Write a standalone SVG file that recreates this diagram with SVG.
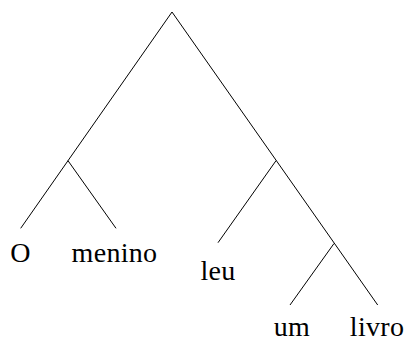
<svg xmlns="http://www.w3.org/2000/svg" width="405" height="342" viewBox="0 0 405 342">
<style>
.e{stroke:#000;stroke-width:1;fill:none}
.t{font-family:"Liberation Serif",serif;font-size:28px;letter-spacing:0.3px;text-anchor:middle;fill:#000}
</style>
<rect width="405" height="342" fill="#fff"/>
<g id="edges">
<line class="e" x1="172" y1="12" x2="20.7" y2="228.3"/>
<line class="e" x1="68" y1="160.7" x2="116" y2="228.3"/>
<line class="e" x1="172" y1="12" x2="377.7" y2="305"/>
<line class="e" x1="276" y1="160.7" x2="218" y2="242.7"/>
<line class="e" x1="334" y1="243.5" x2="290" y2="305"/>
</g>
<g id="n-O"><text class="t" x="20.5" y="261.5">O</text></g>
<g id="n-menino"><text class="t" x="114.5" y="261.5">menino</text></g>
<g id="n-leu"><text class="t" x="218" y="280">leu</text></g>
<g id="n-um"><text class="t" x="292" y="335.5">um</text></g>
<g id="n-livro"><text class="t" x="377" y="335.5">livro</text></g>
</svg>
